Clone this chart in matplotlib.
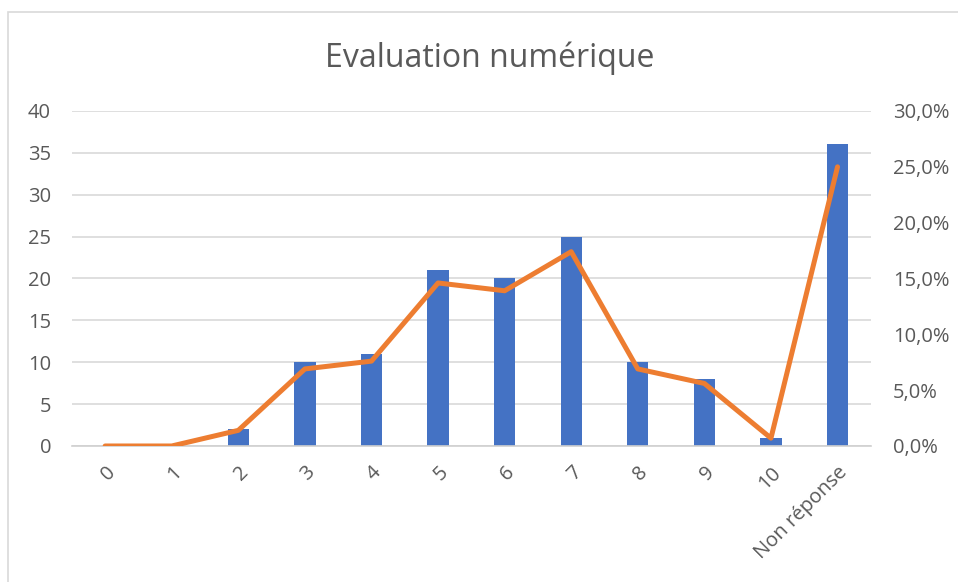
import numpy as np
import matplotlib.pyplot as plt
from matplotlib.patches import Rectangle
from matplotlib.ticker import FuncFormatter

categories = ['0', '1', '2', '3', '4', '5', '6', '7', '8', '9', '10', 'Non réponse']
counts = [0, 0, 2, 10, 11, 21, 20, 25, 10, 8, 1, 36]
percents = [0.0, 0.0, 1.4, 6.9, 7.6, 14.6, 13.9, 17.4, 6.9, 5.6, 0.7, 25.0]

plt.rcParams['font.family'] = ['Open Sans', 'DejaVu Sans']
grey = '#595959'

fig = plt.figure(figsize=(9.58, 5.82), dpi=100)
fig.patches.append(Rectangle((8 / 958, -0.01), 1.0, 1 - 12 / 582 + 0.01,
                             transform=fig.transFigure, fill=False,
                             edgecolor='#D9D9D9', linewidth=1.2))

ax = fig.add_axes([0.075, 0.2337, 0.834, 0.5756])
x = np.arange(len(categories))
ax.bar(x, counts, width=0.32, color='#4472C4', zorder=2)
ax.set_xlim(-0.5, len(categories) - 0.5)
ax.set_ylim(0, 40)
ax.set_yticks(range(0, 41, 5))
ax.grid(axis='y', color='#D9D9D9', linewidth=1.2, zorder=0)
for s in ['top', 'right', 'left']:
    ax.spines[s].set_visible(False)
ax.spines['bottom'].set_color('#D0D0D0')
ax.spines['bottom'].set_linewidth(1.2)
ax.set_xticks(x)
ax.set_xticklabels(categories, rotation=45, ha='right', rotation_mode='anchor')
ax.tick_params(axis='both', length=0, colors=grey, labelsize=14.5)
ax.tick_params(axis='y', pad=15)
ax.tick_params(axis='x', pad=12)

ax2 = ax.twinx()
ax2.plot(x, percents, color='#ED7D31', linewidth=3.6, zorder=3,
         solid_joinstyle='round', solid_capstyle='round')
ax2.set_ylim(0, 30)
ax2.set_yticks(range(0, 31, 5))
ax2.yaxis.set_major_formatter(FuncFormatter(lambda v, p: f'{v:.1f}%'.replace('.', ',')))
for s in ax2.spines.values():
    s.set_visible(False)
ax2.tick_params(axis='y', length=0, colors=grey, labelsize=14.5, pad=16)

fig.text(0.511, 0.9, 'Evaluation numérique', ha='center', va='center',
         fontsize=23, color=grey)

fig.savefig('out.png', dpi=100)
